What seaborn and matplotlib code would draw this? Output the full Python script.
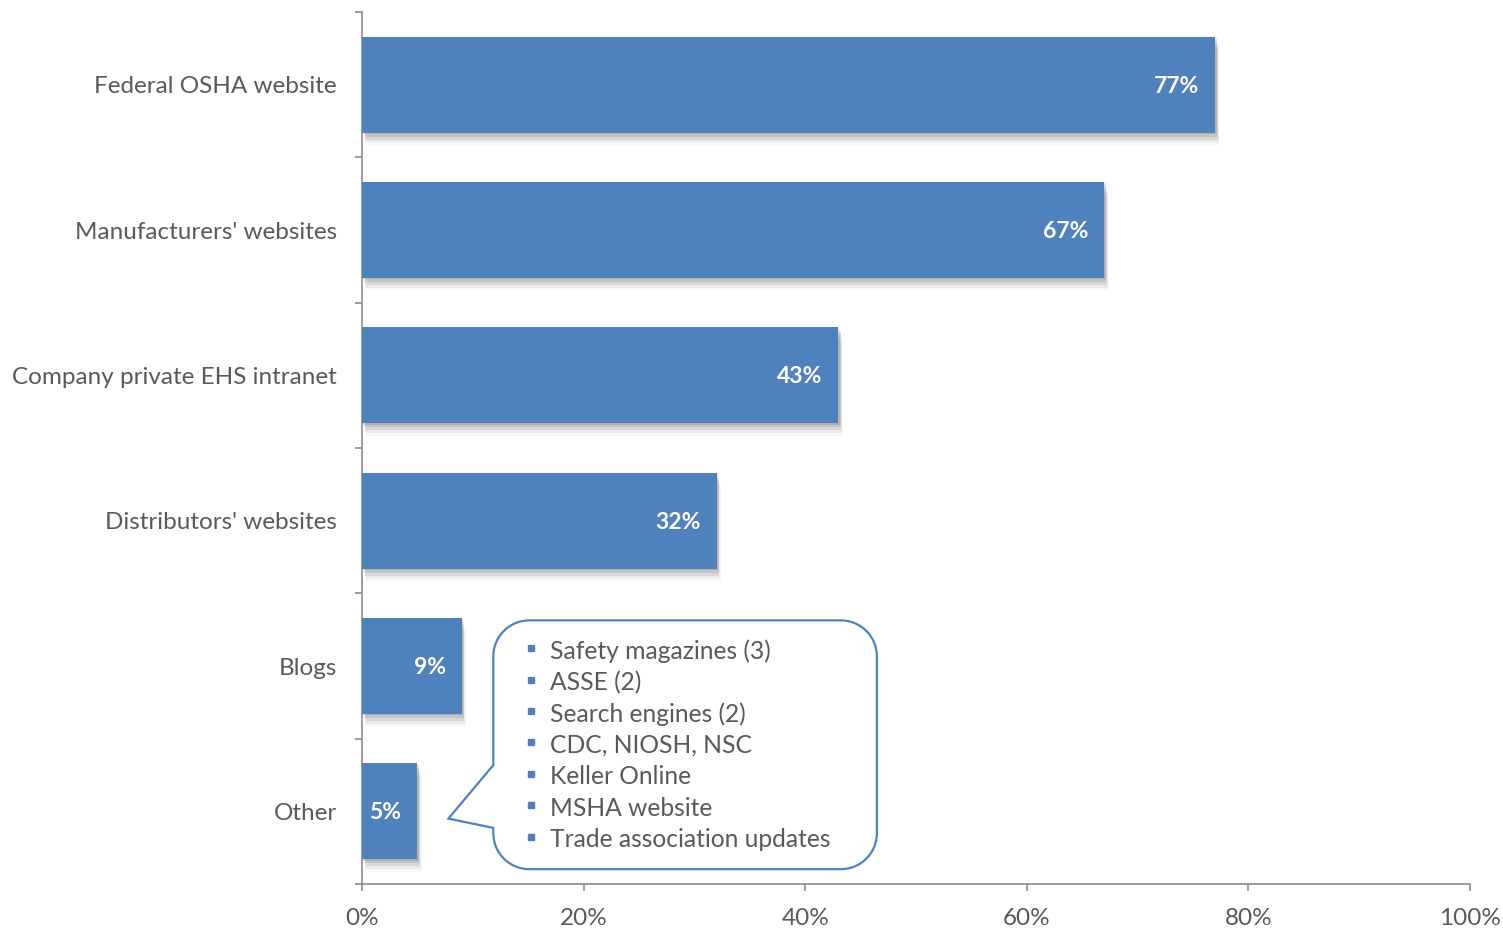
import numpy as np
import pandas as pd
import matplotlib
matplotlib.use("Agg")
import matplotlib.pyplot as plt
import matplotlib.patheffects as pe
from matplotlib.patches import PathPatch
from matplotlib.path import Path
from matplotlib.ticker import FixedLocator, PercentFormatter
import seaborn as sns

# Survey responses: share of respondents using each online resource
categories = [
    "Federal OSHA website",
    "Manufacturers' websites",
    "Company private EHS intranet",
    "Distributors' websites",
    "Blogs",
    "Other",
]
shares = [77, 67, 43, 32, 9, 5]

# Write-in answers grouped under "Other"
other_items = [
    "Safety magazines (3)",
    "ASSE (2)",
    "Search engines (2)",
    "CDC, NIOSH, NSC",
    "Keller Online",
    "MSHA website",
    "Trade association updates",
]

x_ticks = [0, 20, 40, 60, 80, 100]

BAR = "#4F81BD"
TEXT = "#595959"
AXIS = "#8C8C8C"
FONT = ["Lato", "DejaVu Sans"]

sns.set_theme(style="white")
plt.rcParams["font.family"] = FONT

df = pd.DataFrame({"resource": categories, "share": shares})

fig = plt.figure(figsize=(15.03, 9.30), dpi=100)
ax = fig.add_axes([362 / 1503, 1 - 884 / 930, (1470 - 362) / 1503, (884 - 12) / 930])

sns.barplot(data=df, x="share", y="resource", orient="h", color=BAR,
            saturation=1, width=0.66, ax=ax, zorder=3, linewidth=0,
            edgecolor=BAR)

# Soft drop shadow beneath each bar, built from stacked translucent layers
shadow_layers = []
for dx, dy, a in [(1, -1, 0.10), (1.5, -3, 0.09), (2, -5, 0.07), (2.5, -7, 0.05), (3, -9, 0.03)]:
    shadow_layers.append(pe.SimplePatchShadow(offset=(dx, dy), shadow_rgbFace="#000000", alpha=a))
for bar in ax.patches:
    bar.set_linewidth(0)
    bar.set_path_effects(shadow_layers + [pe.Normal()])

# Value labels inside the bar ends
for i, v in enumerate(shares):
    ax.annotate(f"{v}%", xy=(v, i), xytext=(-11.5, -1), textcoords="offset points",
                ha="right", va="center", color="white", fontsize=16.5,
                fontweight="bold", family=FONT, zorder=5)

ax.set_xlim(0, 100)
ax.set_ylim(len(categories) - 0.5, -0.5)
ax.set_xlabel("")
ax.set_ylabel("")

ax.xaxis.set_major_locator(FixedLocator(x_ticks))
ax.xaxis.set_major_formatter(PercentFormatter(decimals=0))
ax.tick_params(axis="x", which="major", bottom=True, length=5, width=1.2,
               color=AXIS, direction="out", pad=12, labelsize=17.5, labelcolor=TEXT)

ax.set_yticks(range(len(categories)))
ax.set_yticklabels(categories)
ax.yaxis.set_minor_locator(FixedLocator(np.arange(-0.5, len(categories), 1.0)))
ax.tick_params(axis="y", which="major", left=False, length=0, pad=18,
               labelsize=17.5, labelcolor=TEXT)
ax.tick_params(axis="y", which="minor", left=True, length=5, width=1.2,
               color=AXIS, direction="out")

for side in ("top", "right"):
    ax.spines[side].set_visible(False)
for side in ("left", "bottom"):
    ax.spines[side].set_color(AXIS)
    ax.spines[side].set_linewidth(1.2)
ax.grid(False)

# Callout listing the write-in answers, pointing at the "Other" bar
px_x = ax.bbox.width / 100.0
px_y = ax.bbox.height / len(categories)
x0, x1 = 11.85, 46.47
y0, y1 = 3.686, 5.398
r = 36.0
rx, ry = r / px_x, r / px_y
tip = (7.8, 5.05)
base_top, base_bot = 4.682, 5.114


def arc(cx, cy, a0, a1, n=16):
    t = np.linspace(np.radians(a0), np.radians(a1), n)
    return [(cx + rx * np.cos(t_), cy - ry * np.sin(t_)) for t_ in t]


verts = []
verts += arc(x0 + rx, y0 + ry, 180, 90)          # top-left
verts += arc(x1 - rx, y0 + ry, 90, 0)            # top-right
verts += arc(x1 - rx, y1 - ry, 0, -90)           # bottom-right
verts += arc(x0 + rx, y1 - ry, -90, -180)        # bottom-left
verts += [(x0, base_bot), tip, (x0, base_top)]
verts.append(verts[0])
codes = [Path.MOVETO] + [Path.LINETO] * (len(verts) - 2) + [Path.CLOSEPOLY]
callout = PathPatch(Path(verts, codes), facecolor="white", edgecolor=BAR,
                    linewidth=1.6, zorder=6, joinstyle="miter")
ax.add_patch(callout)

line_y0, line_step = 3.898, 0.216
for k, item in enumerate(other_items):
    yy = line_y0 + k * line_step
    ax.plot(15.23, yy - 0.02, marker="s", markersize=5, color=BAR,
            linestyle="none", zorder=7)
    ax.text(16.94, yy, item, ha="left", va="center", color=TEXT,
            fontsize=17.7, family=FONT, zorder=7)

fig.savefig("out.png", dpi=100, facecolor="white")
